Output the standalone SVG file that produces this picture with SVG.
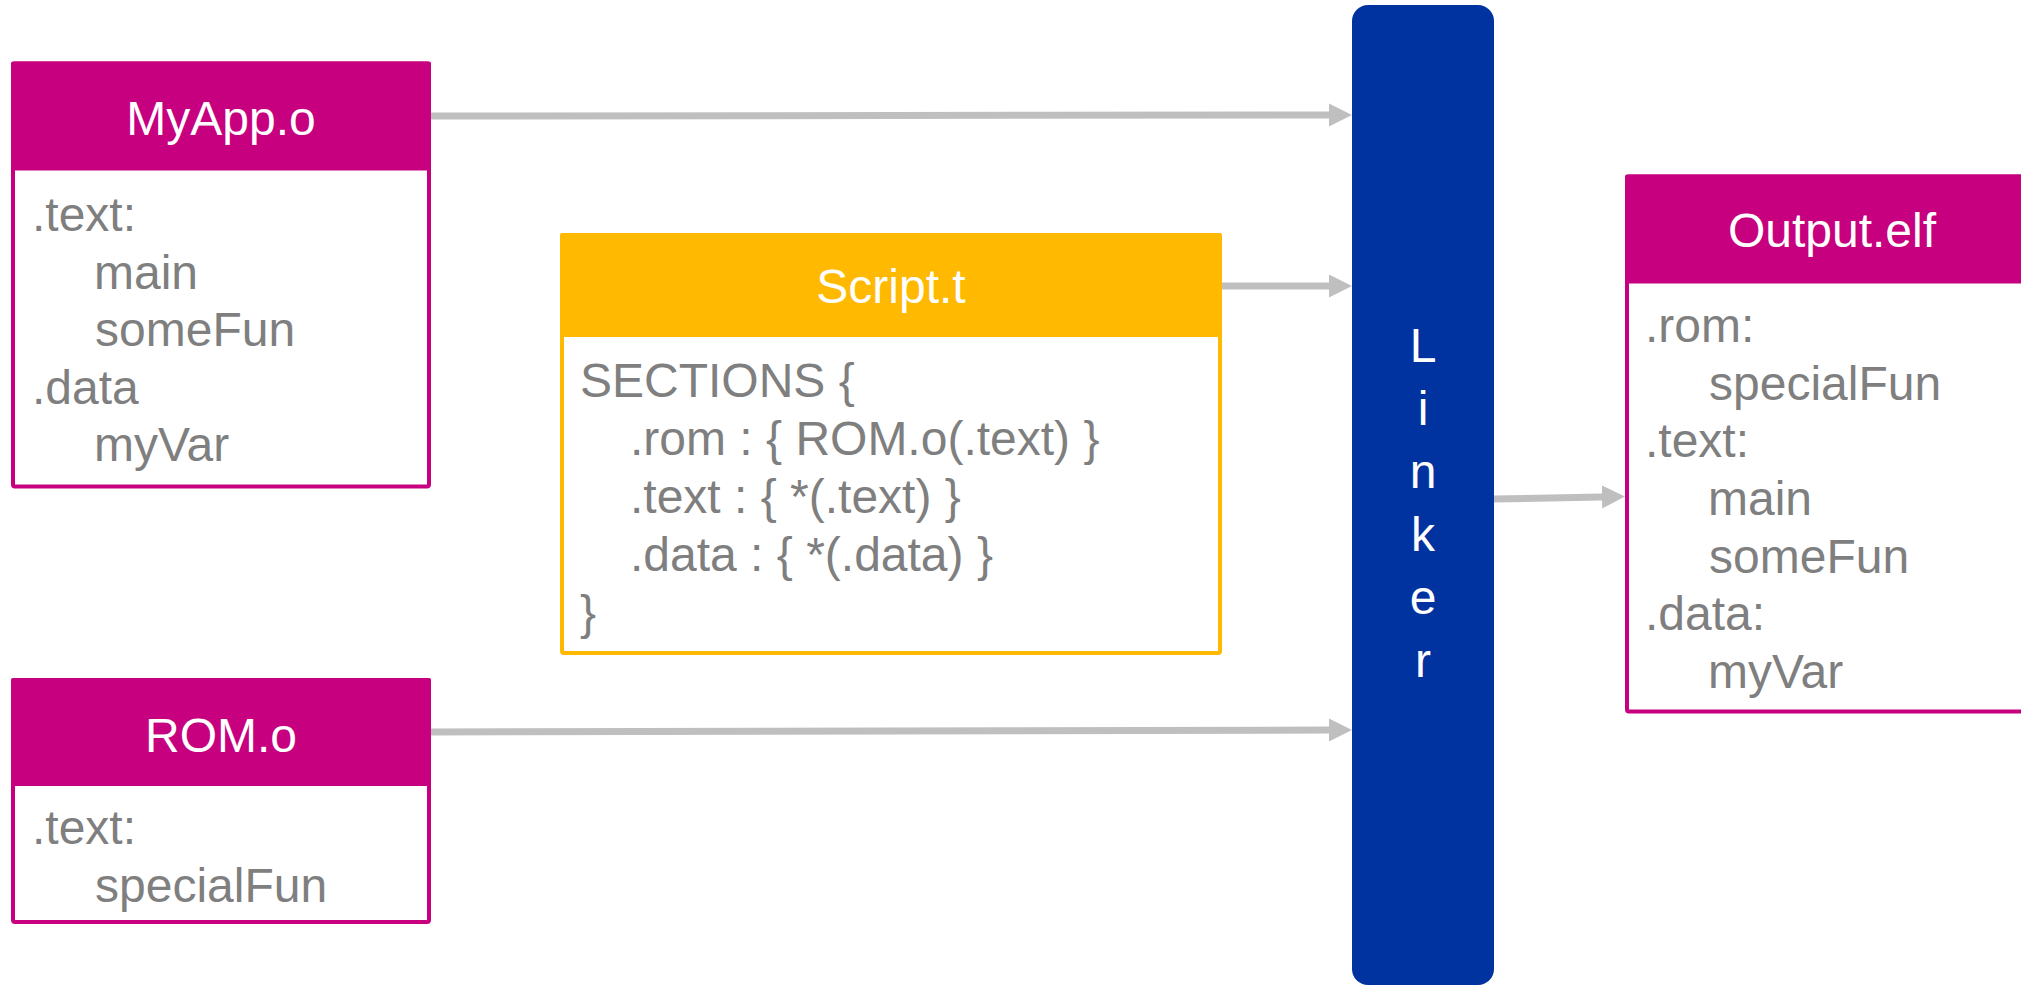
<svg xmlns="http://www.w3.org/2000/svg" width="2021" height="987" viewBox="0 0 2021 987">
  <defs>
    <marker id="arr" markerUnits="userSpaceOnUse" markerWidth="24" markerHeight="24" refX="0" refY="11.5" orient="auto" viewBox="0 0 24 24">
      <path d="M0,0 L23,11.5 L0,23 Z" fill="#BFBFBF"/>
    </marker>
    <style>
      .box { fill: #FFFFFF; stroke: #C6007E; stroke-width: 4; }
      .hdr { fill: #C6007E; }
      .sbox { fill: #FFFFFF; stroke: #FFB900; stroke-width: 4; }
      .shdr { fill: #FFB900; }
      .title { font-family: "Liberation Sans", Arial, sans-serif; font-size: 48px; fill: #FFFFFF; text-anchor: middle; }
      .body { font-family: "Liberation Sans", Arial, sans-serif; font-size: 48px; fill: #7F7F7F; }
      .lk { font-family: "Liberation Sans", Arial, sans-serif; font-size: 48px; fill: #FFFFFF; text-anchor: middle; }
      .conn { stroke: #BFBFBF; stroke-width: 7; fill: none; marker-end: url(#arr); }
    </style>
  </defs>

  <g id="connectors">
    <line class="conn" x1="431" y1="116" x2="1329" y2="115"/>
    <line class="conn" x1="1222" y1="286" x2="1329" y2="286"/>
    <line class="conn" x1="431" y1="732" x2="1329" y2="730"/>
    <line class="conn" x1="1494" y1="499" x2="1602" y2="497"/>
  </g>

  <g id="myapp">
    <rect class="box" x="13" y="63.5" width="416" height="423" rx="2"/>
    <rect class="hdr" x="11" y="61.5" width="420" height="109" rx="2"/>
    <text class="title" x="221" y="135">MyApp.o</text>
    <text class="body" x="32" y="231">.text:</text>
    <text class="body" x="94" y="289">main</text>
    <text class="body" x="95" y="346">someFun</text>
    <text class="body" x="32" y="404">.data</text>
    <text class="body" x="94" y="461">myVar</text>
  </g>

  <g id="rom">
    <rect class="box" x="13" y="680" width="416" height="242" rx="2"/>
    <rect class="hdr" x="11" y="678" width="420" height="108" rx="2"/>
    <text class="title" x="221" y="752">ROM.o</text>
    <text class="body" x="32" y="844">.text:</text>
    <text class="body" x="95" y="902">specialFun</text>
  </g>

  <g id="script">
    <rect class="sbox" x="562" y="235" width="658" height="418" rx="2"/>
    <rect class="shdr" x="560" y="233" width="662" height="104" rx="2"/>
    <text class="title" x="891" y="303">Script.t</text>
    <text class="body" x="580" y="397">SECTIONS {</text>
    <text class="body" x="630" y="455">.rom : { ROM.o(.text) }</text>
    <text class="body" x="630" y="513">.text : { *(.text) }</text>
    <text class="body" x="630" y="571">.data : { *(.data) }</text>
    <text class="body" x="580" y="629">}</text>
  </g>

  <g id="linker">
    <rect x="1352" y="5" width="142" height="980" rx="16" fill="#0033A0"/>
    <text class="lk" x="1423" y="362">L</text>
    <text class="lk" x="1423" y="425">i</text>
    <text class="lk" x="1423" y="488">n</text>
    <text class="lk" x="1423" y="551">k</text>
    <text class="lk" x="1423" y="614">e</text>
    <text class="lk" x="1423" y="677">r</text>
  </g>

  <g id="output">
    <rect class="box" x="1627" y="176.5" width="420" height="535" rx="2"/>
    <rect class="hdr" x="1625" y="174.5" width="424" height="109" rx="2"/>
    <text class="title" x="1832" y="247">Output.elf</text>
    <text class="body" x="1645" y="342">.rom:</text>
    <text class="body" x="1709" y="400">specialFun</text>
    <text class="body" x="1645" y="457">.text:</text>
    <text class="body" x="1708" y="515">main</text>
    <text class="body" x="1709" y="573">someFun</text>
    <text class="body" x="1645" y="630">.data:</text>
    <text class="body" x="1708" y="688">myVar</text>
  </g>
</svg>
